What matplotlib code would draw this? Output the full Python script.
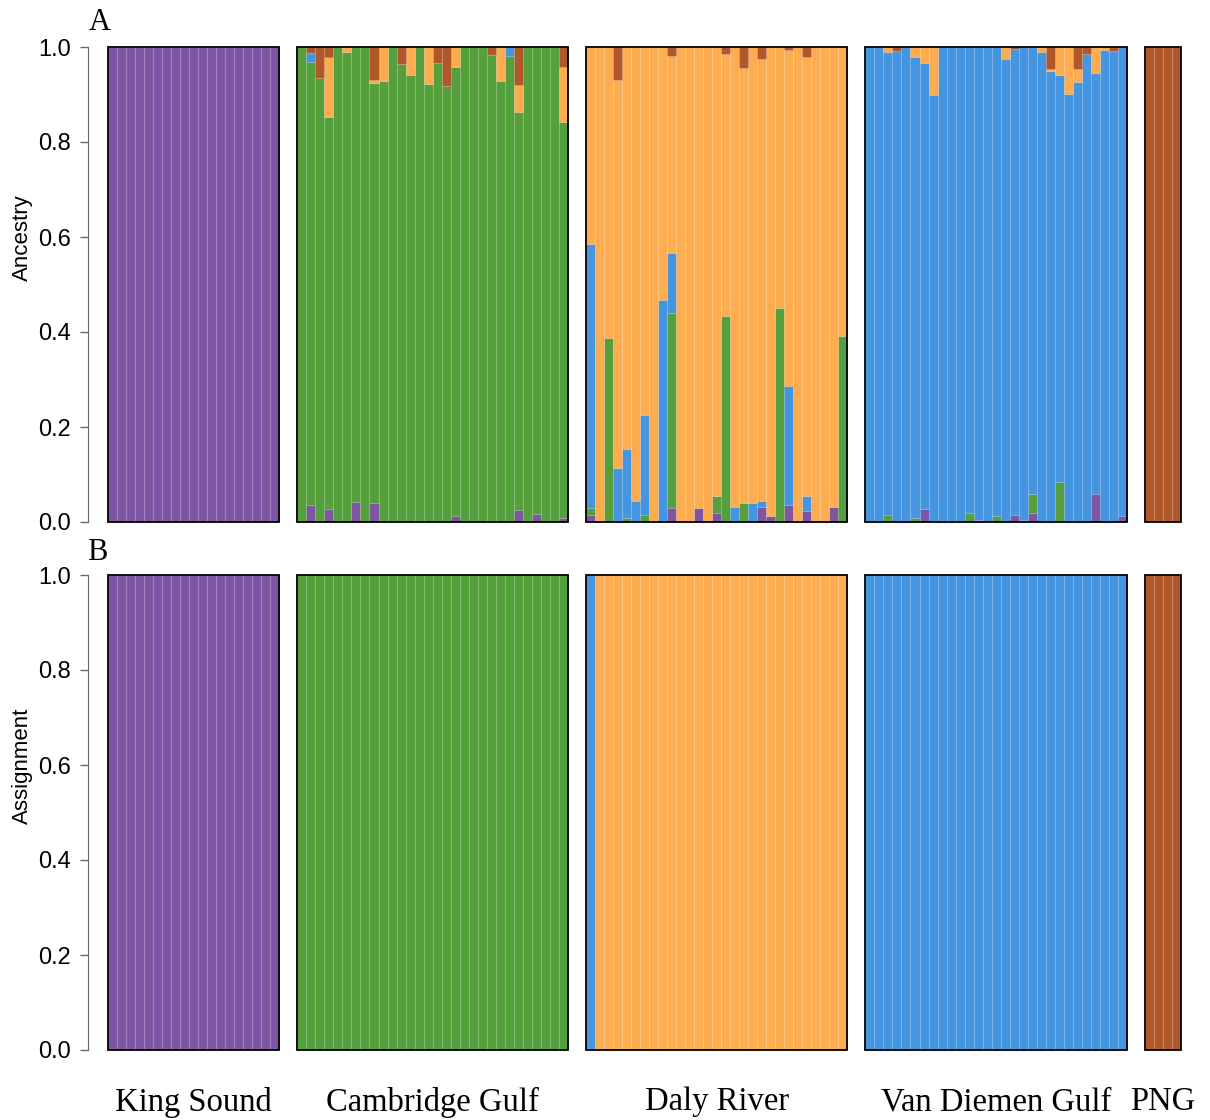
import numpy as np
import matplotlib
matplotlib.use("Agg")
from matplotlib import pyplot as plt
from matplotlib.patches import Rectangle
from matplotlib.transforms import blended_transform_factory

# cluster colours, bottom to top of each stacked bar
cluster_names = ["purple", "green", "blue", "orange", "brown"]
cluster_colors = ["#7d55a3", "#55a03c", "#4595e0", "#fdad50", "#b0582a"]

groups = ["King Sound", "Cambridge Gulf", "Daly River", "Van Diemen Gulf", "PNG"]
group_sizes = [19, 30, 29, 29, 4]
group_main = ["purple", "green", "orange", "blue", "brown"]  # dominant cluster fills the rest

# panel A: minor ancestry proportions per individual
ks_purple = [0]*19

cg_purple = [0, .036, 0, .027, .002, 0, .042, 0, .041, 0, 0, 0, 0, 0, 0,
             0, 0, .013, 0, .002, 0, 0, 0, 0, .025, 0, .016, 0, 0, .008]
cg_blue = [0, .019, 0, 0, 0, 0, 0, 0, 0, 0, 0, 0, 0, 0, 0,
           0, 0, 0, 0, 0, 0, 0, 0, .018, 0, 0, 0, 0, 0, 0]
cg_orange = [0, 0, 0, .127, 0, .01, 0, 0, .006, .071, 0, 0, .059, 0, .078,
             0, 0, .043, 0, 0, 0, 0, .072, 0, .056, 0, 0, 0, 0, .114]
cg_brown = [0, .012, .066, .02, 0, 0, 0, 0, .07, 0, 0, .036, 0, 0, 0,
            .033, .082, 0, 0, 0, 0, .016, 0, 0, .08, 0, 0, 0, 0, .043]

dr_purple = [.014, 0, 0, 0, 0, 0, 0, 0, 0, .029, 0, 0, .03, 0, .02,
             0, 0, 0, 0, .032, .013, 0, .036, 0, .024, 0, 0, .031, 0]
dr_green = [.016, 0, .387, 0, .008, 0, .015, 0, 0, .412, 0, 0, 0, 0, .035,
            .434, 0, .039, 0, 0, 0, .45, 0, 0, 0, 0, 0, 0, .392]
dr_blue = [.555, 0, 0, .113, .146, .045, .21, 0, .467, .125, 0, 0, 0, 0, 0,
           0, .031, 0, .039, .013, 0, 0, .251, 0, .031, 0, 0, 0, 0]
dr_brown = [0, 0, 0, .07, 0, 0, 0, 0, 0, .018, 0, 0, 0, 0, 0,
            .015, 0, .045, 0, .026, 0, 0, .006, 0, .022, 0, 0, 0, 0]

vd_purple = [0, 0, 0, 0, 0, 0, .027, 0, 0, 0, 0, 0, .004, 0, 0,
             0, .014, .005, .018, 0, 0, 0, 0, 0, 0, .058, 0, 0, .012]
vd_green = [0, 0, .014, 0, 0, .008, 0, 0, 0, 0, 0, .018, 0, 0, .013,
            0, 0, 0, .042, 0, 0, .084, 0, 0, 0, 0, 0, 0, 0]
vd_orange = [0, 0, .01, 0, 0, .022, .034, .1, 0, 0, 0, 0, 0, 0, 0,
             .026, 0, 0, 0, .01, .003, .059, .098, .026, 0, .054, .006, 0, 0]
vd_brown = [0, 0, 0, .009, 0, 0, 0, 0, 0, 0, 0, 0, 0, 0, 0,
            0, .005, 0, 0, 0, .047, 0, 0, .047, .015, 0, 0, .008, 0]

png_brown = [0]*4

minor = [
    {"purple": ks_purple},
    {"purple": cg_purple, "blue": cg_blue, "orange": cg_orange, "brown": cg_brown},
    {"purple": dr_purple, "green": dr_green, "blue": dr_blue, "brown": dr_brown},
    {"purple": vd_purple, "green": vd_green, "orange": vd_orange, "brown": vd_brown},
    {"brown": png_brown},
]

# panel B: assigned cluster per individual
ks_assign = ["purple"]*19
cg_assign = ["green"]*30
dr_assign = ["blue"] + ["orange"]*28
vd_assign = ["blue"]*29
png_assign = ["brown"]*4
assign = [ks_assign, cg_assign, dr_assign, vd_assign, png_assign]

gap = 2
offsets = []
pos = 0
for n in group_sizes:
    offsets.append(pos)
    pos += n + gap
total = pos - gap

W, H = 1210, 1120
fig = plt.figure(figsize=(W/100, H/100), dpi=100)
sans = "Liberation Sans"
serif = "Liberation Serif"
edge = (1, 1, 1, 0.08)


def style_axis(ax, ylabel, ylab_y):
    ax.set_xlim(0, total)
    ax.set_ylim(0, 1)
    for s in ["top", "right", "bottom"]:
        ax.spines[s].set_visible(False)
    ax.spines["left"].set_position(("outward", 14.4))
    ax.spines["left"].set_bounds(0, 1)
    ax.spines["left"].set_color("#666666")
    ax.set_xticks([])
    ax.set_yticks(np.arange(0, 1.01, 0.2))
    ax.set_yticklabels(["%.1f" % v for v in np.arange(0, 1.01, 0.2)],
                       fontsize=17, family=sans)
    ax.tick_params(axis="y", length=6, width=1, color="#666666", pad=6)
    fig.text(22/W, 1 - ylab_y/H, ylabel, rotation=90, ha="center", va="center",
             fontsize=16, family=sans)
    for off, n in zip(offsets, group_sizes):
        ax.add_patch(Rectangle((off, 0), n, 1, fill=False, lw=1.3,
                               edgecolor="black", zorder=5, clip_on=False))


left = 108/W
width = 1073/W
hgt = 475/H
axA = fig.add_axes([left, (H-522)/H, width, hgt])
axB = fig.add_axes([left, (H-1050)/H, width, hgt])

# panel A stacked bars
for off, n, main, comp in zip(offsets, group_sizes, group_main, minor):
    x = off + np.arange(n)
    vals = {}
    for c in cluster_names:
        if c in comp:
            vals[c] = np.array(comp[c], dtype=float)
        else:
            vals[c] = np.zeros(n)
    rest = 1 - sum(vals[c] for c in cluster_names if c != main)
    vals[main] = rest
    bottom = np.zeros(n)
    for c, col in zip(cluster_names, cluster_colors):
        axA.bar(x, vals[c], width=1, bottom=bottom, align="edge", color=col,
                edgecolor=edge, linewidth=0.5)
        bottom += vals[c]

# panel B assignment bars
cmap = dict(zip(cluster_names, cluster_colors))
for off, n, a in zip(offsets, group_sizes, assign):
    x = off + np.arange(n)
    axB.bar(x, np.ones(n), width=1, align="edge", color=[cmap[c] for c in a],
            edgecolor=edge, linewidth=0.5)

style_axis(axA, "Ancestry", 238)
style_axis(axB, "Assignment", 766)

fig.text(100/W, 1 - 22/H, "A", ha="center", va="center", fontsize=22, family=serif)
fig.text(97/W, 1 - 553/H, "B", ha="center", va="center", fontsize=22, family=serif)

tr = blended_transform_factory(axB.transData, axB.transAxes)
for off, n, g in zip(offsets, group_sizes, groups):
    axB.text(off + n/2, -52/475, g, transform=tr, ha="center", va="center",
             fontsize=23.5, family=serif)

fig.savefig("out.png", dpi=100)
